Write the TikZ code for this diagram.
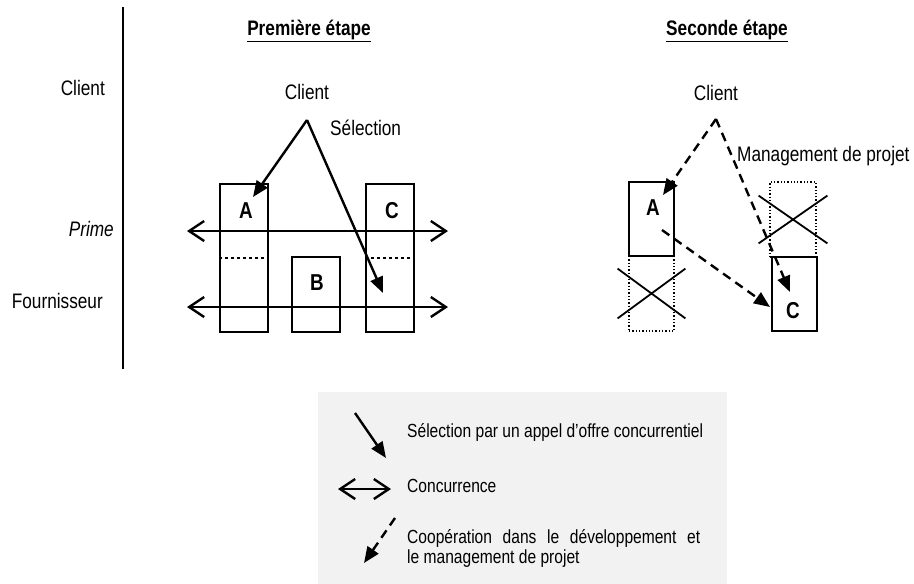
\documentclass[tikz,border=0pt]{standalone}
\usepackage{fontspec}
\setmainfont[FakeStretch=0.82]{Liberation Sans}
\usepackage{tikz}
\usetikzlibrary{arrows.meta,shapes.misc}
\definecolor{legendgrey}{RGB}{242,242,242}
\tikzset{
  base/.style={font=\fontsize{21}{24}\selectfont, inner sep=0pt, text=black},
  tag/.style={base, font=\fontsize{21}{24}\selectfont\bfseries},
  letter/.style={base, font=\fontsize{23}{26}\selectfont\bfseries},
  small/.style={base, font=\fontsize{19}{20}\selectfont},
  firm/.style={rectangle, draw, line width=2pt, inner sep=0pt},
  gone/.style={rectangle, draw, line width=1.3pt, dotted, inner sep=0pt},
  crossed/.style={cross out, draw, line width=1.8pt, inner sep=0pt},
  sel/.style={-{Triangle[length=16pt,width=13pt]}, line width=2.4pt},
  coop/.style={sel, dash pattern=on 9pt off 6pt},
  rival/.style={{Straight Barb[length=15pt,width=20pt]}-{Straight Barb[length=15pt,width=20pt]}, line width=2.4pt},
}
\newcommand{\heading}[1]{\underline{#1}}

\begin{document}
\begin{tikzpicture}[x=1pt,y=-1pt]
  \useasboundingbox (0,0) rectangle (914,584);
  % left column
  \draw[line width=2.2pt] (123,7) coordinate (top) -- (123,369) coordinate (bot);
  \node[base,anchor=east] (rclient) at (105,88) {Client};
  \node[base,anchor=east] (rprime) at (114,229) {\itshape Prime};
  \node[base,anchor=east] (rfourn) at (103,301) {Fournisseur};
  % first stage
  \node[tag] (h1) at (309,31) {\heading{Première étape}};
  \node[base] (client1) at (307,92) {Client};
  \coordinate (apex1) at (307,120);
  \node[base,anchor=west] (sel1) at (330,128) {Sélection};
  \foreach \n/\x/\y/\h in {a1/244/258/148,c1/390/258/148,b1/315.5/294.5/75}{
    \node[firm,minimum width=48pt,minimum height=\h pt] (\n) at (\x,\y) {};
  }
  \foreach \n in {a1,c1}{\draw[line width=1.8pt,dashed] (\n.west) -- (\n.east);}
  \node[letter] (la1) at (246,211) {A};
  \node[letter] (lc1) at (392,211) {C};
  \node[letter] (lb1) at (317,283) {B};
  \coordinate (w1) at (187,231); \coordinate (e1) at (448,231);
  \coordinate (w2) at (187,307); \coordinate (e2) at (448,307);
  \draw[rival] (w1) -- (e1);
  \draw[rival] (w2) -- (e2);
  \coordinate (tipa1) at (253,197);
  \coordinate (tipc1) at (383,293);
  \draw[sel] (apex1) -- (tipa1);
  \draw[sel] (apex1) -- (tipc1);
  % second stage
  \node[tag] (h2) at (727,31) {\heading{Seconde étape}};
  \node[base] (client2) at (716,93) {Client};
  \coordinate (apex2) at (716,119);
  \node[base,anchor=west] (mgmt) at (737,156) {Management de projet};
  \node[firm,minimum width=45pt,minimum height=74pt] (a2) at (651.5,219) {};
  \node[gone,minimum width=45pt,minimum height=75pt] (b2) at (651.5,293.5) {};
  \node[crossed,minimum width=66pt,minimum height=48pt] (xb2) at (b2) {};
  \node[gone,minimum width=46pt,minimum height=75pt] (g2) at (793,219.5) {};
  \node[crossed,minimum width=67pt,minimum height=46pt] (xg2) at (g2) {};
  \node[firm,minimum width=45pt,minimum height=74pt] (c2) at (794.5,294) {};
  \node[letter] (la2) at (653,208) {A};
  \node[letter] (lc2) at (793,311) {C};
  \coordinate (tipa2) at (663,195);
  \coordinate (tipc2) at (790,292);
  \coordinate (froma2) at (662,230);
  \coordinate (tipac2) at (770,307);
  \draw[coop] (apex2) -- (tipa2);
  \draw[coop] (apex2) -- (tipc2);
  \draw[coop] (froma2) -- (tipac2);
  % legend
  \node[fill=legendgrey,minimum width=409pt,minimum height=192pt,inner sep=0pt] (legend) at (522.5,488) {};
  \coordinate (ls1) at (355,413); \coordinate (le1) at (386,458);
  \draw[sel] (ls1) -- (le1);
  \node[small,anchor=west] (lt1) at (407,432) {Sélection par un appel d’offre concurrentiel};
  \coordinate (ls2) at (338,489); \coordinate (le2) at (391,489);
  \draw[rival] (ls2) -- (le2);
  \node[small,anchor=west] (lt2) at (407,486) {Concurrence};
  \coordinate (ls3) at (395,518); \coordinate (le3) at (364,563);
  \draw[coop] (ls3) -- (le3);
  \node[small,anchor=west,align=left] (lt3) at (407,548) {\makebox[293pt][s]{Coopération dans le développement et}\\le management de projet};
\end{tikzpicture}
\end{document}
